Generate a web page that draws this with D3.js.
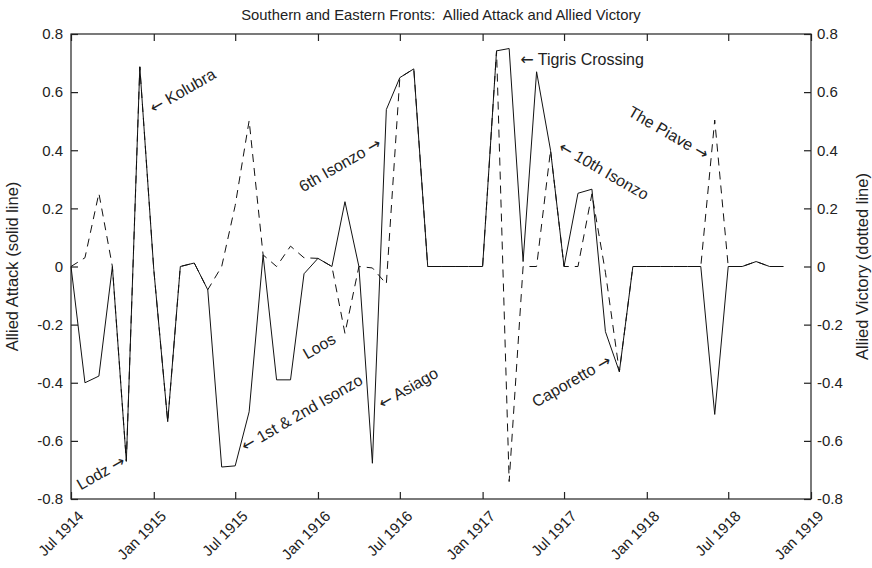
<!DOCTYPE html>
<html>
<head>
<meta charset="utf-8">
<script src="https://cdn.jsdelivr.net/npm/d3@7"></script>
<style>
  body { margin: 0; background: #fff; }
  text { font-family: "Liberation Sans", Arial, sans-serif; fill: #222; }
  .arrow { font-family: "DejaVu Sans", sans-serif; }
</style>
</head>
<body>
<script>
// monthly readings, Jul 1914 .. Nov 1918
const months = [
  '1914-07', '1914-08', '1914-09', '1914-10', '1914-11', '1914-12',
  '1915-01', '1915-02', '1915-03', '1915-04', '1915-05', '1915-06',
  '1915-07', '1915-08', '1915-09', '1915-10', '1915-11', '1915-12',
  '1916-01', '1916-02', '1916-03', '1916-04', '1916-05', '1916-06',
  '1916-07', '1916-08', '1916-09', '1916-10', '1916-11', '1916-12',
  '1917-01', '1917-02', '1917-03', '1917-04', '1917-05', '1917-06',
  '1917-07', '1917-08', '1917-09', '1917-10', '1917-11', '1917-12',
  '1918-01', '1918-02', '1918-03', '1918-04', '1918-05', '1918-06',
  '1918-07', '1918-08', '1918-09', '1918-10', '1918-11'
]
const alliedAttack = [
  0, -0.40, -0.377, 0, -0.67, 0.687,
  -0.01, -0.534, 0, 0.012, -0.08, -0.69,
  -0.686, -0.50, 0.04, -0.39, -0.39, -0.025,
  0.028, 0, 0.223, 0, -0.677, 0.54,
  0.65, 0.68, 0, 0, 0, 0,
  0, 0.742, 0.75, 0.017, 0.67, 0.40,
  0, 0.252, 0.266, -0.224, -0.362, 0,
  0, 0, 0, 0, 0, -0.509,
  0, 0, 0.017, 0, 0
]
const alliedVictory = [
  0, 0.03, 0.252, 0, -0.67, 0.687,
  -0.01, -0.534, 0, 0.012, -0.08, 0,
  0.21, 0.502, 0.04, 0, 0.07, 0.03,
  0.028, 0, -0.23, 0, -0.005, -0.06,
  0.65, 0.68, 0, 0, 0, 0,
  0, 0.742, -0.74, 0, 0, 0.40,
  0, 0, 0.25, -0.02, -0.362, 0,
  0, 0, 0, 0, 0, 0.504,
  0, 0, 0.017, 0, 0
]
const xTickMonths = ['1914-07', '1915-01', '1915-07', '1916-01', '1916-07', '1917-01', '1917-07', '1918-01', '1918-07', '1919-01']
const yTicks = [-0.8, -0.6, -0.4, -0.2, 0, 0.2, 0.4, 0.6, 0.8]

// battle notes: label, month it points at, which series
const battleLabels = ['Lodz →', '← Kolubra', '← 1st & 2nd Isonzo', 'Loos', '← Asiago', '6th Isonzo →', '← Tigris Crossing', '← 10th Isonzo', 'Caporetto →', 'The Piave →']
const battleMonths = ['1914-11', '1914-12', '1915-07', '1916-03', '1916-05', '1916-06', '1917-03', '1917-06', '1917-11', '1918-06']
const battleSeries = ['attack', 'attack', 'attack', 'victory', 'attack', 'attack', 'attack', 'attack', 'attack', 'victory']

const parseMonth = d3.timeParse('%Y-%m')

const width = 872
const height = 568
const margin = { top: 34, right: 61, bottom: 69, left: 71 }

const svg = d3.select('body').append('svg').attr('width', width).attr('height', height)

const xScale = d3.scaleTime()
  .domain([parseMonth('1914-07'), parseMonth('1919-01')])
  .range([margin.left, width - margin.right])
const yScale = d3.scaleLinear().domain([-0.8, 0.8]).range([height - margin.bottom, margin.top])

const tickDates = xTickMonths.map(parseMonth)
const yFmt = (v) => (Math.abs(v) < 1e-9 ? '0' : d3.format('.1f')(v).replace('−', '-'))

// axes, ticks pointing inward
const xAxis = d3.axisBottom(xScale).tickValues(tickDates).tickSizeInner(-7).tickSizeOuter(0).tickFormat(d3.timeFormat('%b %Y'))
const gx = svg.append('g').attr('transform', `translate(0, ${height - margin.bottom})`).call(xAxis)
gx.selectAll('text')
  .attr('x', 0).attr('y', 0).attr('dy', 0)
  .attr('text-anchor', 'end')
  .attr('transform', 'translate(13, 18) rotate(-45)')

svg.append('g').attr('transform', `translate(0, ${margin.top})`)
  .call(d3.axisTop(xScale).tickValues(tickDates).tickSizeInner(-7).tickSizeOuter(0).tickFormat(''))

svg.append('g').attr('transform', `translate(${margin.left}, 0)`)
  .call(d3.axisLeft(yScale).tickValues(yTicks).tickSizeInner(-7).tickSizeOuter(0).tickPadding(8).tickFormat(yFmt))
svg.append('g').attr('transform', `translate(${width - margin.right}, 0)`)
  .call(d3.axisRight(yScale).tickValues(yTicks).tickSizeInner(-7).tickSizeOuter(0).tickPadding(6).tickFormat(yFmt))

svg.selectAll('.domain').remove()
svg.selectAll('.tick line').attr('stroke', '#222').attr('stroke-width', 1.2)
svg.selectAll('.tick text').style('font-size', '15px').attr('fill', '#222')

svg.append('rect')
  .attr('x', margin.left).attr('y', margin.top)
  .attr('width', width - margin.left - margin.right)
  .attr('height', height - margin.top - margin.bottom)
  .attr('fill', 'none').attr('stroke', '#222').attr('stroke-width', 1.2)

// series
const line = (values) => d3.line()
  .x((d, i) => xScale(parseMonth(months[i])))
  .y((d) => yScale(d))(values)

svg.append('path').attr('d', line(alliedVictory))
  .attr('fill', 'none').attr('stroke', '#111').attr('stroke-width', 1).attr('stroke-dasharray', '8,6')
svg.append('path').attr('d', line(alliedAttack))
  .attr('fill', 'none').attr('stroke', '#111').attr('stroke-width', 1)

// titles
svg.append('text').text('Southern and Eastern Fronts:  Allied Attack and Allied Victory')
  .attr('x', (margin.left + width - margin.right) / 2).attr('y', 20)
  .attr('text-anchor', 'middle').style('font-size', '14.8px').style('white-space', 'pre')
svg.append('text').text('Allied Attack (solid line)')
  .attr('transform', `translate(18, ${(margin.top + height - margin.bottom) / 2}) rotate(-90)`)
  .attr('text-anchor', 'middle').style('font-size', '16.5px')
svg.append('text').text('Allied Victory (dotted line)')
  .attr('transform', `translate(868, ${(margin.top + height - margin.bottom) / 2}) rotate(-90)`)
  .attr('text-anchor', 'middle').style('font-size', '16.5px')

// battle labels, offset from the point they refer to
const labelPlace = [
  { dx: 0, dy: 3, rot: -30, anchor: 'end' },
  { dx: 14, dy: 47, rot: -30, anchor: 'start' },
  { dx: 10, dy: -14, rot: -30, anchor: 'start' },
  { dx: -8, dy: 9, rot: -30, anchor: 'end' },
  { dx: 10, dy: -54, rot: -30, anchor: 'start' },
  { dx: -4, dy: 37, rot: -30, anchor: 'end' },
  { dx: 11, dy: 16, rot: 0, anchor: 'start' },
  { dx: 7, dy: 0, rot: 30, anchor: 'start' },
  { dx: -7, dy: -8, rot: -30, anchor: 'end' },
  { dx: -10, dy: 40, rot: 30, anchor: 'end' }
]

const notes = svg.selectAll('.battle').data(battleLabels).enter().append('text').attr('class', 'battle')
  .attr('text-anchor', (d, i) => labelPlace[i].anchor)
  .attr('transform', (d, i) => {
    const k = months.indexOf(battleMonths[i])
    const v = battleSeries[i] === 'attack' ? alliedAttack[k] : alliedVictory[k]
    const px = xScale(parseMonth(battleMonths[i])) + labelPlace[i].dx
    const py = yScale(v) + labelPlace[i].dy
    return `translate(${px}, ${py}) rotate(${labelPlace[i].rot})`
  })
  .style('font-size', '16px')

notes.each(function (d) {
  const t = d3.select(this)
  d.split(/([←→])/).filter((s) => s.length).forEach((part) => {
    t.append('tspan').text(part).attr('class', /[←→]/.test(part) ? 'arrow' : null)
  })
})
</script>
</body>
</html>
